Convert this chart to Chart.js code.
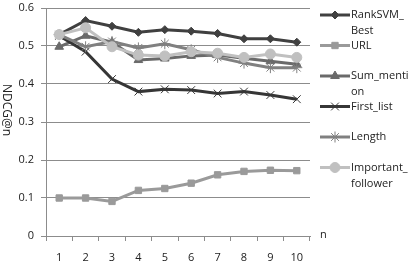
<!DOCTYPE html>
<html>
<head>
<meta charset="utf-8">
<script src="https://cdn.jsdelivr.net/npm/chart.js@4/dist/chart.umd.min.js"></script>
<style>
  html, body { margin: 0; padding: 0; background: #fff; }
  #wrap { width: 415px; height: 278px; }
</style>
</head>
<body>
<div id="wrap"><canvas id="line-chart"></canvas></div>
<script>
// x categories (n)
var nLabels = ["1", "2", "3", "4", "5", "6", "7", "8", "9", "10"];

// NDCG@n per method
var rankSvmBest = [0.530, 0.567, 0.552, 0.536, 0.543, 0.539, 0.533, 0.519, 0.519, 0.510];
var url = [0.100, 0.100, 0.091, 0.120, 0.125, 0.139, 0.161, 0.170, 0.173, 0.172];
var sumMention = [0.498, 0.527, 0.510, 0.463, 0.467, 0.474, 0.476, 0.468, 0.460, 0.452];
var firstList = [0.527, 0.485, 0.413, 0.380, 0.386, 0.384, 0.375, 0.380, 0.371, 0.360];
var lengthSeries = [0.530, 0.498, 0.512, 0.495, 0.506, 0.490, 0.470, 0.455, 0.443, 0.443];
var importantFollower = [0.530, 0.548, 0.498, 0.476, 0.474, 0.485, 0.481, 0.470, 0.479, 0.470];

var yTicks = [0, 0.1, 0.2, 0.3, 0.4, 0.5, 0.6];

// legend text, already wrapped like the original
var legendLines = [["RankSVM_", "Best"], ["URL"], ["Sum_menti", "on"], ["First_list"], ["Length"], ["Important_", "follower"]];

var font = "'Open Sans', 'DejaVu Sans', sans-serif";
var gridColor = "#8c8c8c";

function series(label, data, color, style, radius, order) {
  return {
    label: label, data: data,
    borderColor: color, backgroundColor: color,
    pointBackgroundColor: color, pointBorderColor: color,
    borderWidth: 3, pointStyle: style, pointRadius: radius,
    pointBorderWidth: 1, tension: 0, order: order
  };
}

var datasets = [
  series("RankSVM_Best", rankSvmBest, "#404040", "rectRot", 4, 5),
  series("URL", url, "#9a9a9a", "rect", 4.5, 4),
  series("Sum_mention", sumMention, "#6a6a6a", "triangle", 5, 3),
  series("First_list", firstList, "#363636", "crossRot", 5.5, 2),
  series("Length", lengthSeries, "#808080", "star", 5.5, 1),
  series("Important_follower", importantFollower, "#c0c0c0", "circle", 5, 0)
];

// legend at the right, y title and the "n" caption
var extras = {
  id: "extras",
  afterDraw: function(chart) {
    var ctx = chart.ctx;
    var area = chart.chartArea;
    ctx.save();
    ctx.font = "11px " + font;
    ctx.textBaseline = "middle";
    var y0 = 15;
    datasets.forEach(function(ds, i) {
      var y = y0 + i * 30.5;
      ctx.strokeStyle = ds.borderColor;
      ctx.fillStyle = ds.borderColor;
      ctx.lineWidth = 3;
      ctx.beginPath();
      ctx.moveTo(320, y);
      ctx.lineTo(350, y);
      ctx.stroke();
      ctx.lineWidth = 1;
      Chart.helpers.drawPoint(ctx, {pointStyle: ds.pointStyle, radius: ds.pointRadius, borderWidth: 1, rotation: 0}, 335, y);
      ctx.fillStyle = "#222";
      ctx.textAlign = "left";
      legendLines[i].forEach(function(t, k) {
        ctx.fillText(t, 351, y + k * 16);
      });
    });
    // x caption
    ctx.fillText("n", 320, area.bottom - 1);
    // y title, reading top to bottom
    ctx.translate(6, 110);
    ctx.rotate(Math.PI / 2);
    ctx.textAlign = "center";
    ctx.font = "12px " + font;
    ctx.fillText("NDCG@n", 0, 0);
    ctx.restore();
  }
};

new Chart(document.getElementById("line-chart"), {
  type: "line",
  data: { labels: nLabels, datasets: datasets },
  plugins: [extras],
  options: {
    responsive: true,
    maintainAspectRatio: false,
    animation: false,
    layout: { padding: { top: 8, right: 105, left: 0, bottom: 0 } },
    plugins: { legend: { display: false }, tooltip: { enabled: false } },
    scales: {
      x: {
        offset: true,
        grid: { offset: true, drawOnChartArea: false, drawTicks: true, tickLength: 5, color: gridColor },
        border: { color: gridColor },
        ticks: { color: "#222", font: { family: font, size: 11 }, padding: 10, maxRotation: 0 },
        afterFit: function(s) { s.height = 42; s.paddingLeft = 0; s.paddingRight = 0; }
      },
      y: {
        min: 0, max: 0.6,
        afterBuildTicks: function(s) { s.ticks = yTicks.map(function(v) { return { value: v }; }); },
        grid: { color: gridColor, tickLength: 5 },
        border: { color: gridColor },
        ticks: {
          color: "#222", font: { family: font, size: 11 }, padding: 7,
          callback: function(v) { return v === 0 ? "0" : v.toFixed(1); }
        },
        afterFit: function(s) { s.width = 46; s.paddingTop = 0; s.paddingBottom = 0; }
      }
    }
  }
});
</script>
</body>
</html>
